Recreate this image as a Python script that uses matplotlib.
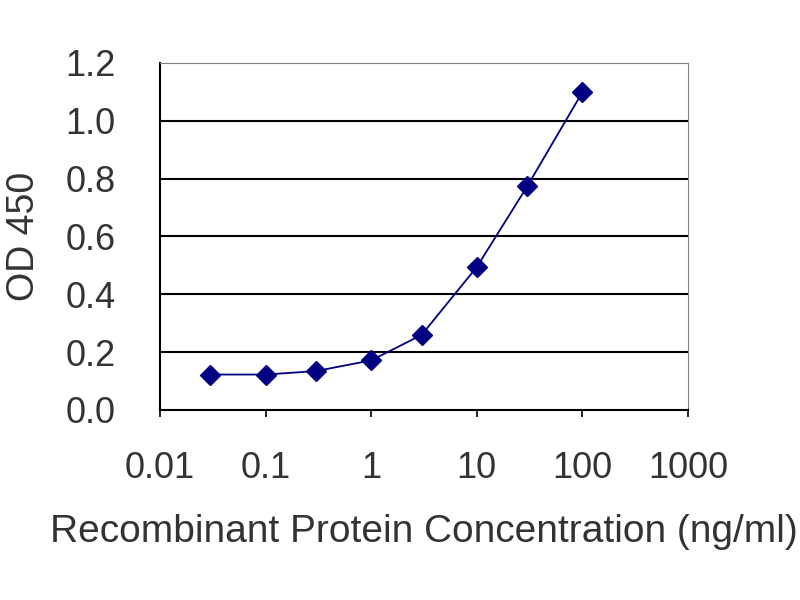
import numpy as np
import matplotlib
matplotlib.use('Agg')
import matplotlib.pyplot as plt
from matplotlib.ticker import FixedLocator, FixedFormatter, NullLocator

# ELISA standard curve
conc = [0.03, 0.1, 0.3, 1, 3, 10, 30, 100]
od450 = [0.122, 0.122, 0.134, 0.171, 0.259, 0.494, 0.773, 1.099]

x_ticks = [0.01, 0.1, 1, 10, 100, 1000]
x_labels = ['0.01', '0.1', '1', '10', '100', '1000']
y_ticks = [0.0, 0.2, 0.4, 0.6, 0.8, 1.0, 1.2]
y_labels = ['0.0', '0.2', '0.4', '0.6', '0.8', '1.0', '1.2']

plt.rcParams['font.family'] = ['Liberation Sans', 'DejaVu Sans']
text_color = '#333333'

fig = plt.figure(figsize=(8, 6), dpi=100)
ax = fig.add_axes([0.2, 0.317, 0.66, 0.578])

ax.plot(conc, od450, color='#000080', linewidth=1.3, marker='D',
        markersize=10, markerfacecolor='#000080', markeredgecolor='#000080',
        zorder=3)

ax.set_xscale('log')
ax.set_xlim(0.01, 1000)
ax.set_ylim(0, 1.2)

ax.xaxis.set_major_locator(FixedLocator(x_ticks))
ax.xaxis.set_major_formatter(FixedFormatter(x_labels))
ax.xaxis.set_minor_locator(NullLocator())
ax.set_yticks(y_ticks)
ax.set_yticklabels(y_labels)

for y in y_ticks[1:-1]:
    ax.axhline(y, color='black', linewidth=1.5, zorder=1)

ax.tick_params(axis='x', direction='out', length=5, width=1.2, color='black',
               pad=25, labelsize=26, labelcolor=text_color)
ax.tick_params(axis='y', length=0, pad=32, labelsize=26, labelcolor=text_color)

ax.spines['left'].set_color('black')
ax.spines['bottom'].set_color('black')
ax.spines['left'].set_linewidth(1.5)
ax.spines['bottom'].set_linewidth(1.5)
ax.spines['top'].set_color('#808080')
ax.spines['right'].set_color('#808080')

ax.set_ylabel('OD 450', fontsize=27, color=text_color)
ax.yaxis.set_label_coords(-0.224, 0.5)
ax.set_xlabel('Recombinant Protein Concentration (ng/ml)', fontsize=28,
              color=text_color, labelpad=20)

fig.savefig('out.png', dpi=100)
plt.close(fig)
